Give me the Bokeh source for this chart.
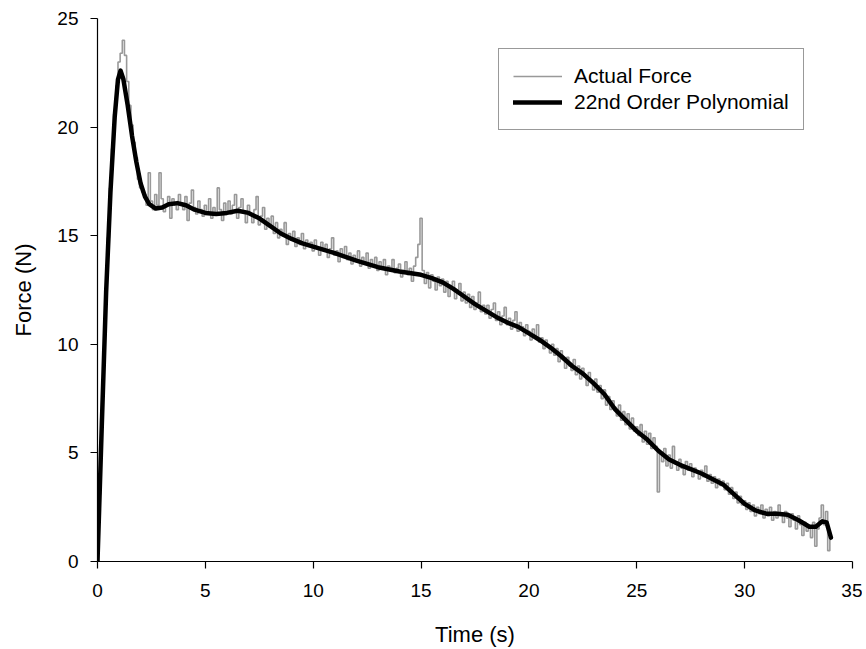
from bokeh.plotting import figure
from bokeh.models import Range1d, FixedTicker, Legend, LegendItem
from bokeh.embed import file_html
from bokeh.resources import INLINE

# ---- data ----
sample_interval_s = 0.1
actual_force = [
    0.0, 3.1, 6.6, 9.6, 12.6, 14.9, 17.2, 19.0, 20.6, 21.9,
    23.0, 23.4, 24.0, 23.3, 22.1, 21.0, 20.1, 19.3, 18.6, 17.6,
    17.2, 17.0, 16.9, 16.4, 17.9, 16.6, 16.2, 16.9, 16.4, 17.9,
    16.7, 16.1, 16.4, 16.8, 15.8, 16.7, 16.4, 16.2, 16.9, 16.5,
    16.2, 16.8, 15.7, 16.5, 17.1, 16.3, 16.0, 16.6, 16.2, 15.9,
    16.4, 16.1, 16.7, 15.8, 16.3, 16.0, 17.2, 16.2, 15.7, 16.5,
    16.1, 16.6, 16.0, 16.4, 16.9, 15.8, 16.3, 16.7, 16.1, 15.6,
    16.4, 16.0, 15.6, 16.2, 16.8, 15.5, 15.9, 16.3, 15.3, 15.8,
    15.4, 15.9, 15.1, 15.6, 14.9, 15.3, 15.0, 15.6, 14.6, 15.1,
    14.8, 15.2, 14.5, 14.9, 14.6, 15.1, 14.4, 14.8, 14.5, 14.7,
    14.3, 14.8, 14.4, 14.1, 14.7, 14.3, 14.6, 14.0, 14.4, 14.9,
    14.1, 14.3, 13.8, 14.4, 14.0, 14.5, 13.9, 14.2, 13.7, 14.1,
    13.9, 14.3, 13.6, 14.0, 13.8, 14.2, 13.5, 13.9, 13.6, 14.0,
    13.4, 13.8, 13.5, 13.9, 13.2, 13.6, 13.4, 13.9, 13.3, 13.5,
    13.7, 13.1, 13.4, 13.8, 13.2, 13.5, 12.9, 13.6, 14.0, 14.6,
    15.8, 13.4, 12.8, 13.3, 12.6, 13.2, 12.9, 12.5, 13.1, 12.7,
    13.0, 12.4, 12.9, 12.2, 12.7, 12.9, 12.1, 12.5, 12.8, 12.0,
    12.4, 11.9, 12.3, 11.7, 12.2, 11.6, 11.9, 12.4, 11.5, 11.8,
    11.4, 11.8, 11.2, 11.6, 11.9, 11.1, 11.5, 10.9, 11.3, 11.7,
    10.9, 11.2, 10.7, 11.1, 11.5, 10.6, 11.0, 10.8, 10.4, 10.9,
    10.6, 10.2, 10.7, 10.4, 10.9, 10.1, 10.3, 9.8, 10.2, 9.9,
    9.6, 10.0, 9.5, 9.8, 9.2, 9.7, 9.3, 8.9, 9.4, 9.0,
    8.8, 9.3, 8.6, 9.0, 8.4, 8.9, 8.5, 8.1, 8.7, 8.3,
    7.9, 8.4, 7.8, 8.1, 7.5, 7.9, 7.2, 7.6, 7.0, 7.4,
    7.1, 6.7, 7.2, 6.5, 6.9, 6.3, 6.8, 6.1, 6.6, 6.0,
    6.2, 5.8, 6.3, 5.5, 6.0, 5.4, 5.9, 5.2, 5.7, 5.3,
    3.2, 5.0, 4.6, 5.2, 4.4, 4.9, 4.3, 5.3, 4.5, 4.2,
    4.7, 4.3, 4.0, 4.6, 4.2, 4.5, 3.9, 4.3, 4.1, 3.8,
    4.2, 3.9, 4.4, 3.7, 4.0, 3.6, 3.9, 3.4, 3.8, 3.5,
    3.7, 3.3, 3.6, 3.1, 3.4, 2.9, 3.2, 2.7, 3.0, 2.6,
    2.8, 2.4, 2.7, 2.3, 2.6, 2.1, 2.5, 2.2, 2.6, 2.0,
    2.4, 2.1, 2.5, 1.9, 2.3, 2.0, 2.6, 2.2, 1.8, 2.3,
    2.0, 1.6, 2.2, 1.9, 1.5, 2.1, 1.7, 1.2, 1.8, 1.4,
    1.6, 1.1, 1.8, 0.7, 1.5, 2.0, 2.6, 1.7, 2.3, 0.5,
    1.0,
]
actual_time = [round(i * sample_interval_s, 1) for i in range(len(actual_force))]

poly_time = [0, 0.2, 0.4, 0.6, 0.8, 0.95, 1.07, 1.2, 1.4, 1.6, 1.8, 2.0, 2.2, 2.4,
             2.7, 3.0, 3.3, 3.7, 4.1, 4.5, 5.0, 5.5, 6.0, 6.5, 7.0, 7.5, 8.0, 8.5,
             9.0, 9.5, 10, 11, 12, 13, 14, 15, 15.5, 16, 16.5, 17, 17.5, 18, 18.5,
             19, 19.5, 20, 20.5, 21, 21.5, 22, 22.5, 23, 23.5, 24, 24.5, 25, 25.5,
             26, 26.5, 27, 27.5, 28, 28.5, 29, 29.5, 30, 30.5, 31, 31.5, 32, 32.5,
             33, 33.3, 33.6, 33.8, 34.0]
poly_force = [0, 6.3, 12.4, 17.0, 20.5, 22.2, 22.6, 22.2, 21.0, 19.6, 18.4, 17.4, 16.8, 16.45,
              16.25, 16.3, 16.45, 16.5, 16.4, 16.2, 16.05, 16.0, 16.05, 16.15, 16.05, 15.8, 15.45, 15.1,
              14.85, 14.65, 14.5, 14.2, 13.85, 13.55, 13.35, 13.2, 13.05, 12.85, 12.55, 12.2, 11.85, 11.55, 11.25,
              11.0, 10.8, 10.5, 10.2, 9.85, 9.45, 9.0, 8.65, 8.2, 7.7, 7.0, 6.5, 6.0, 5.6,
              5.1, 4.7, 4.45, 4.25, 4.05, 3.8, 3.55, 3.1, 2.65, 2.35, 2.2, 2.2, 2.15, 1.9,
              1.6, 1.6, 1.85, 1.8, 1.1]

x_ticks = [0, 5, 10, 15, 20, 25, 30, 35]
y_ticks = [0, 5, 10, 15, 20, 25]

FONT = "Liberation Sans"

p = figure(width=862, height=649, output_backend="svg", toolbar_location=None,
           x_range=Range1d(0, 35), y_range=Range1d(0, 25),
           min_border_left=97, min_border_right=10, min_border_top=18, min_border_bottom=88)
p.outline_line_color = None
p.xgrid.visible = False
p.ygrid.visible = False

r_actual = p.step(actual_time, actual_force, mode="center", line_color="#999999", line_width=1.6)
r_poly = p.line(poly_time, poly_force, line_color="black", line_width=4.5, line_join="round", line_cap="round")

for ax in (p.xaxis[0], p.yaxis[0]):
    ax.axis_line_color = "black"
    ax.axis_line_width = 1.2
    ax.major_tick_line_color = "black"
    ax.major_tick_line_width = 1.2
    ax.major_tick_out = 7
    ax.major_tick_in = 0
    ax.minor_tick_line_color = None
    ax.major_label_text_font = FONT
    ax.major_label_text_font_size = "19px"
    ax.major_label_text_color = "black"
    ax.axis_label_text_font = FONT
    ax.axis_label_text_font_size = "22px"
    ax.axis_label_text_font_style = "normal"
    ax.axis_label_text_color = "black"

p.xaxis.ticker = FixedTicker(ticks=x_ticks)
p.yaxis.ticker = FixedTicker(ticks=y_ticks)
p.xaxis.axis_label = "Time (s)"
p.yaxis.axis_label = "Force (N)"
p.xaxis.major_label_standoff = 15
p.yaxis.major_label_standoff = 12
p.xaxis.axis_label_standoff = 22
p.yaxis.axis_label_standoff = 18

legend = Legend(items=[LegendItem(label="Actual Force", renderers=[r_actual]),
                       LegendItem(label="22nd Order Polynomial", renderers=[r_poly])],
                location=(401, 431))
legend.border_line_color = "#333333"
legend.border_line_width = 1.2
legend.background_fill_alpha = 1
legend.padding = 14
legend.margin = 0
legend.spacing = 0
legend.glyph_width = 49
legend.glyph_height = 26
legend.label_height = 26
legend.label_standoff = 12
legend.label_text_font = FONT
legend.label_text_font_size = "21px"
legend.label_text_color = "black"
p.add_layout(legend)

open("out.html", "w").write(file_html(p, INLINE))
